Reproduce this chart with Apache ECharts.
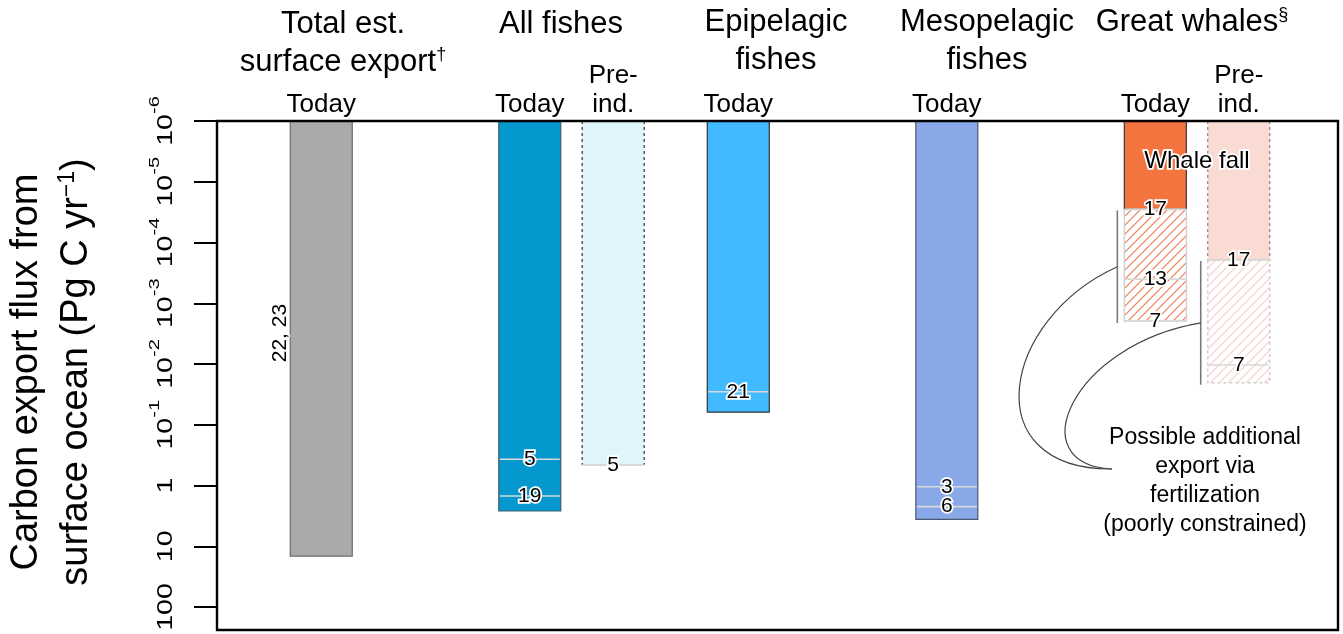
<!DOCTYPE html>
<html>
<head>
<meta charset="utf-8">
<script src="https://cdn.jsdelivr.net/npm/echarts@6/dist/echarts.min.js"></script>
<style>
  html, body { margin: 0; padding: 0; background: #ffffff; }
  #chart { width: 1343px; height: 634px; }
</style>
</head>
<body>
<div id="chart"></div>
<script>
// Carbon export flux from the surface ocean, Pg C per year (log axis, 1e-6 on top)
const slotCount    = 27;
const columnSlot   = [2, 7, 9, 12, 17, 22, 24];
const columnHeader = ['Today', 'Today', 'Pre-\nind.', 'Today', 'Today', 'Today', 'Pre-\nind.'];
const solidFlux    = [14.5, 2.63, 0.46, 0.062, 3.6, 2.85e-5, 1.94e-4];
const fertilFlux   = [null, null, null, null, null, 1.96e-3, 0.0203];

// reference markers inside the columns
const refColumn = [0, 1, 1, 2, 3, 4, 4, 5, 5, 5, 6, 6];
const refFlux   = [3.1e-3, 0.37, 1.49, 0.46, 0.0286, 1.05, 2.23, 2.85e-5, 4.0e-4, 1.96e-3, 1.94e-4, 0.0104];
const refText   = ['22, 23', '5', '19', '5', '21', '3', '6', '17', '13', '7', '17', '7'];

// axis ticks: powers of ten, written as base + superscript exponent
const tickExponent = [-6, -5, -4, -3, -2, -1, 0, 1, 2];
const tickBase     = ['10', '10', '10', '10', '10', '10', '1', '10', '100'];
const tickSup      = ['-6', '-5', '-4', '-3', '-2', '-1', '', '', ''];

// ---- styles ----
const FONT = "'Liberation Sans', Arial, Helvetica, sans-serif";
const columnWidth = 62;
const columnFill = ['#a9aaac', '#0598cf', '#dff5fa', '#41baff', '#89a8e8', '#f3743f', '#fadbd4'];
const columnEdge = ['#6a6a6a', '#3d5f70', '#333333', '#333333', '#4f5870', '#3a3a3a', '#8d8381'];
const columnDash = [false, false, true, false, false, false, true];
const hatchInk   = [null, null, null, null, null, '#ee7d4f', '#f4cfc5'];
const hatchEdge  = [null, null, null, null, null, '#d2d2d2', '#cfcfcf'];
const curveBend  = [null, null, null, null, null, [[-117, 53], [-137, 1]], [[-130, 22], [-92, -4]]];
const noteAnchor = [1112, 469];
const tickLabelGap = 40;
const tickFont = 22, tickSupFont = 15.5, tickStretch = 1.3;

const measureCtx = document.createElement('canvas').getContext('2d');
function textWidth(t, size) {
  measureCtx.font = size + 'px ' + FONT;
  return measureCtx.measureText(t).width;
}

function hatchPattern(ink) {
  const n = 9;
  const c = document.createElement('canvas');
  c.width = n; c.height = n;
  const g = c.getContext('2d');
  g.fillStyle = '#ffffff';
  g.fillRect(0, 0, n, n);
  g.strokeStyle = ink;
  g.lineWidth = 1.2;
  g.beginPath();
  g.moveTo(0, n); g.lineTo(n, 0);
  g.moveTo(-1, 1); g.lineTo(1, -1);
  g.moveTo(n - 1, n + 1); g.lineTo(n + 1, n - 1);
  g.stroke();
  return { image: c, repeat: 'repeat' };
}

function numberLabel(x, y, text, rotate) {
  return {
    type: 'text', x: x, y: y, rotation: rotate ? Math.PI / 2 : 0, z2: 20,
    style: {
      text: text, fontSize: 21, fontFamily: FONT, fill: '#000000',
      stroke: '#ffffff', lineWidth: 3.5, align: 'center', verticalAlign: 'middle'
    }
  };
}

function renderColumn(params, api) {
  const i = params.dataIndex;
  const slot = api.value(0);
  const top = api.coord([slot, 1e-6]);
  const bot = api.coord([slot, api.value(1)]);
  const xc = top[0];
  const x0 = xc - columnWidth / 2;
  const x1 = xc + columnWidth / 2;
  const kids = [];

  // solid part of the column
  kids.push({
    type: 'rect', z2: 1,
    shape: { x: x0, y: top[1], width: columnWidth, height: bot[1] - top[1] },
    style: columnDash[i]
      ? { fill: columnFill[i] }
      : { fill: columnFill[i], stroke: columnEdge[i], lineWidth: 1.2 }
  });
  if (columnDash[i]) {
    const dash = { stroke: columnEdge[i], lineWidth: 1.2, lineDash: [3, 3] };
    kids.push({ type: 'line', z2: 3, shape: { x1: x0, y1: top[1], x2: x0, y2: bot[1] }, style: dash });
    kids.push({ type: 'line', z2: 3, shape: { x1: x1, y1: top[1], x2: x1, y2: bot[1] }, style: dash });
    kids.push({ type: 'line', z2: 3, shape: { x1: x0, y1: bot[1], x2: x1, y2: bot[1] },
      style: { stroke: '#d6d6d6', lineWidth: 2 } });
  }

  // hatched extension: possible export via fertilization
  if (fertilFlux[i] != null) {
    const fb = api.coord([slot, fertilFlux[i]]);
    kids.push({
      type: 'rect', z2: 2,
      shape: { x: x0, y: bot[1], width: columnWidth, height: fb[1] - bot[1] },
      style: {
        fill: hatchPattern(hatchInk[i]), stroke: hatchEdge[i], lineWidth: 1.5,
        lineDash: columnDash[i] ? [3, 3] : null
      }
    });
    // bracket and connector to the note
    const bx = x0 - 7;
    const b0 = bot[1] + 1;
    const b1 = fb[1] + 2;
    kids.push({ type: 'line', z2: 3, shape: { x1: bx, y1: b0, x2: bx, y2: b1 },
      style: { stroke: '#7a7a7a', lineWidth: 1.6 } });
    const p0 = [bx, (b0 + b1) / 2];
    const bend = curveBend[i];
    kids.push({
      type: 'bezierCurve', z2: 3,
      shape: {
        x1: p0[0], y1: p0[1], x2: noteAnchor[0], y2: noteAnchor[1],
        cpx1: p0[0] + bend[0][0], cpy1: p0[1] + bend[0][1],
        cpx2: noteAnchor[0] + bend[1][0], cpy2: noteAnchor[1] + bend[1][1]
      },
      style: { stroke: '#444444', lineWidth: 1.2, fill: null }
    });
  }

  // reference dividers and labels
  for (let k = 0; k < refColumn.length; k++) {
    if (refColumn[k] !== i) continue;
    const p = api.coord([slot, refFlux[k]]);
    if (i === 0) {
      kids.push(numberLabel(x0 - 10, p[1], refText[k], true));
    } else {
      kids.push({ type: 'line', z2: 4, shape: { x1: x0 + 1, y1: p[1], x2: x1 - 1, y2: p[1] },
        style: { stroke: '#d8d8d8', lineWidth: 1.6 } });
      kids.push(numberLabel(xc, p[1], refText[k], false));
    }
  }

  // column header
  kids.push({
    type: 'text', x: xc, y: top[1] - 2, z2: 20,
    style: {
      text: columnHeader[i], fontSize: 26, lineHeight: 29, fontFamily: FONT, fill: '#000000',
      align: 'center', verticalAlign: 'bottom'
    }
  });

  return { type: 'group', children: kids };
}

// rotated tick labels of the log axis (reading upward), exponent raised
function renderTickLabel(params, api) {
  const i = params.dataIndex;
  const p = api.coord([0, api.value(1)]);
  const left = params.coordSys.x;
  const base = tickBase[i];
  const sup = tickSup[i];
  const wb = textWidth(base, tickFont);
  const ws = sup ? textWidth(sup, tickSupFont) : 0;
  const start = -(wb + ws) / 2;
  const kids = [{
    type: 'text', x: start, y: 0,
    style: { text: base, fontSize: tickFont, fontFamily: FONT, fill: '#000000',
      align: 'left', verticalAlign: 'bottom' }
  }];
  if (sup) {
    kids.push({
      type: 'text', x: start + wb, y: -14,
      style: { text: sup, fontSize: tickSupFont, fontFamily: FONT, fill: '#000000',
        align: 'left', verticalAlign: 'bottom' }
    });
  }
  return {
    type: 'group', x: left - tickLabelGap, y: p[1], rotation: Math.PI / 2,
    scaleX: tickStretch, scaleY: 1, children: kids
  };
}

const slotNames = [];
for (let s = 0; s < slotCount; s++) slotNames.push(String(s));

const chart = echarts.init(document.getElementById('chart'), null, { renderer: 'canvas' });

const titleStyle = (text) => ({
  text: text, fontSize: 31, lineHeight: 38, fontFamily: FONT, fill: '#000000',
  align: 'center', verticalAlign: 'top',
  rich: { s: { fontSize: 18, fontFamily: FONT, padding: [0, 0, 14, 0] } }
});

chart.setOption({
  animation: false,
  backgroundColor: '#ffffff',
  grid: { left: 217, right: 0, top: 121, bottom: 27 },
  xAxis: { type: 'category', data: slotNames, show: false },
  yAxis: {
    type: 'log', logBase: 10, min: 1e-6, max: 100, inverse: true, splitNumber: 8,
    axisLine: { show: false },
    axisTick: { show: true, inside: false, length: 23, lineStyle: { color: '#000000', width: 2 } },
    splitLine: { show: false },
    minorTick: { show: false },
    axisLabel: { show: false }
  },
  series: [{
    type: 'custom',
    renderItem: renderColumn,
    clip: false,
    encode: { x: 0, y: 1 },
    data: columnSlot.map((s, i) => [s, solidFlux[i]])
  }, {
    type: 'custom',
    renderItem: renderTickLabel,
    clip: false,
    silent: true,
    encode: { x: 0, y: 1 },
    data: tickExponent.map(e => [0, Math.pow(10, e)])
  }],
  graphic: [
    // plot frame
    { type: 'rect', z: 100, shape: { x: 217, y: 121, width: 1121, height: 509 },
      style: { fill: null, stroke: '#000000', lineWidth: 2.4 } },
    // y axis title
    { type: 'text', x: 52, y: 372, rotation: Math.PI / 2, z: 100,
      style: {
        text: 'Carbon export flux from\nsurface ocean (Pg C yr{s|\u22121})',
        fontSize: 38, lineHeight: 50, fontFamily: FONT, fill: '#000000',
        align: 'center', verticalAlign: 'middle',
        rich: { s: { fontSize: 23, fontFamily: FONT, padding: [0, 0, 18, 0] } }
      } },
    // group titles
    { type: 'text', x: 343, y: 5, z: 100, style: titleStyle('Total est.\nsurface export{s|\u2020}') },
    { type: 'text', x: 561, y: 5, z: 100, style: titleStyle('All fishes') },
    { type: 'text', x: 776, y: 3, z: 100, style: titleStyle('Epipelagic\nfishes') },
    { type: 'text', x: 987, y: 3, z: 100, style: titleStyle('Mesopelagic\nfishes') },
    { type: 'text', x: 1192, y: 3, z: 100, style: titleStyle('Great whales{s|\u00a7}') },
    // whale fall label
    { type: 'text', x: 1197, y: 161, z: 100,
      style: { text: 'Whale fall', fontSize: 24, fontFamily: FONT, fill: '#000000',
        stroke: '#ffffff', lineWidth: 3.5, align: 'center', verticalAlign: 'middle' } },
    // fertilization note
    { type: 'text', x: 1205, y: 481, z: 100,
      style: { text: 'Possible additional\nexport via\nfertilization\n(poorly constrained)',
        fontSize: 23, lineHeight: 29, fontFamily: FONT, fill: '#000000',
        align: 'center', verticalAlign: 'middle' } }
  ]
});
</script>
</body>
</html>
